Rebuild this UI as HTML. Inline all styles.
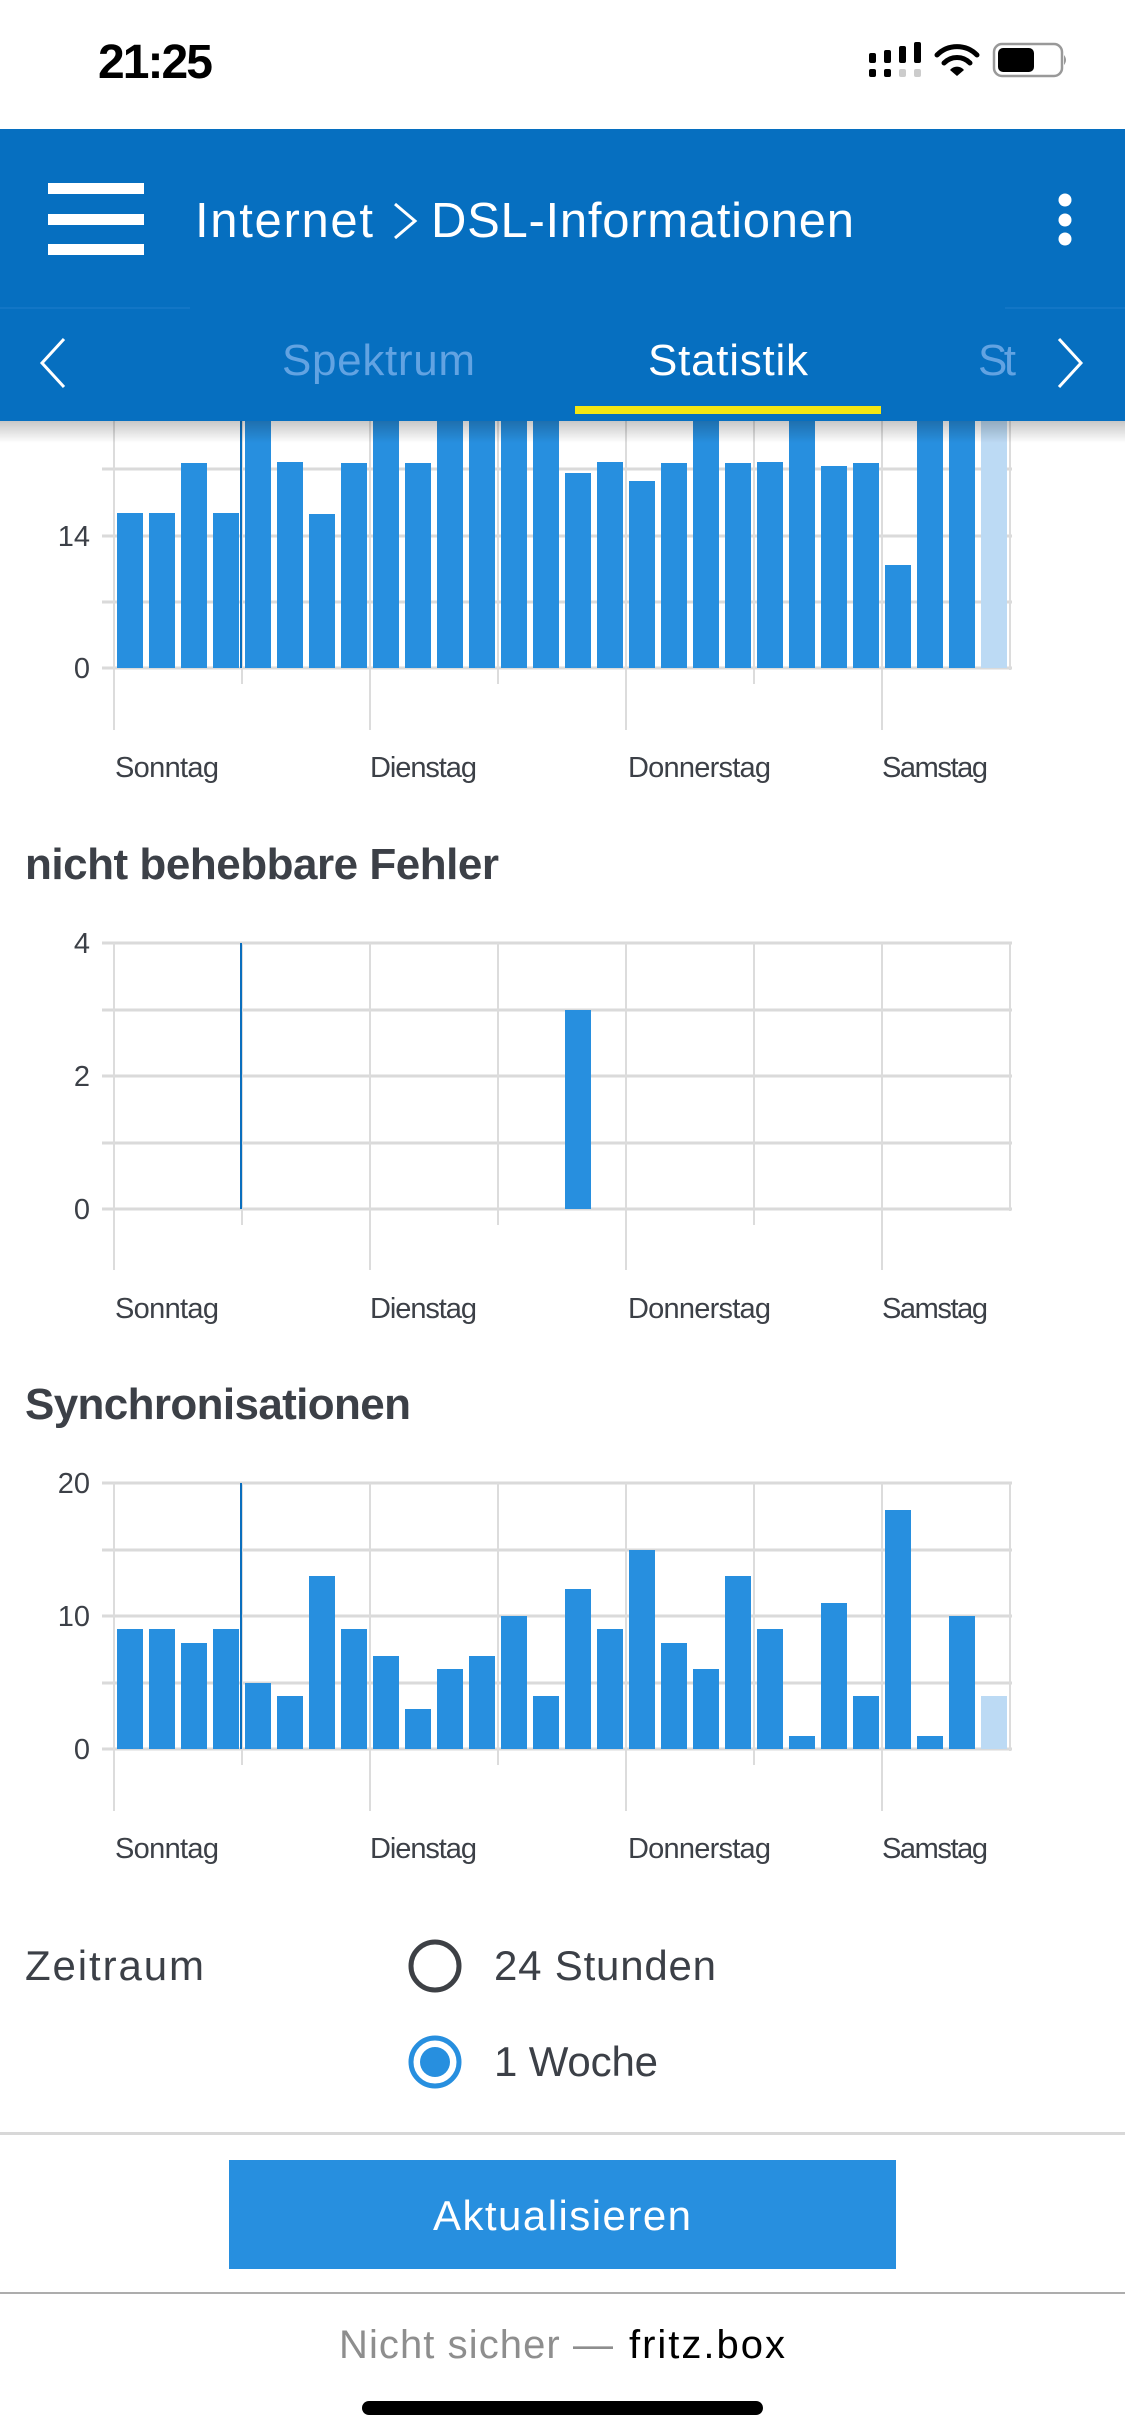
<!DOCTYPE html>
<html><head><meta charset="utf-8"><style>
html,body{margin:0;padding:0;background:#fff;}
svg{display:block;}
text{font-family:"Liberation Sans",sans-serif;}
</style></head><body>
<svg width="1125" height="2436" viewBox="0 0 1125 2436" xmlns="http://www.w3.org/2000/svg">
<defs>
<linearGradient id="sh" x1="0" y1="0" x2="0" y2="1"><stop offset="0" stop-color="#000" stop-opacity="0.22"/><stop offset="1" stop-color="#000" stop-opacity="0"/></linearGradient>
</defs>
<rect width="1125" height="2436" fill="#fff"/>

<!-- Chart 1 -->
<g>
<g stroke="#dadada" stroke-width="3">
<line x1="102" y1="668" x2="1012" y2="668"/><line x1="102" y1="602" x2="1012" y2="602"/><line x1="102" y1="536" x2="1012" y2="536"/><line x1="102" y1="469" x2="1012" y2="469"/>
</g>
<g stroke="#dcdcdc" stroke-width="2">
<line x1="114" y1="421" x2="114" y2="730"/><line x1="370" y1="421" x2="370" y2="730"/><line x1="626" y1="421" x2="626" y2="730"/><line x1="882" y1="421" x2="882" y2="730"/>
<line x1="242" y1="421" x2="242" y2="684"/><line x1="498" y1="421" x2="498" y2="684"/><line x1="754" y1="421" x2="754" y2="684"/><line x1="1010" y1="421" x2="1010" y2="670"/>
</g>
<g fill="#278fdf">
<rect x="117" y="513" width="26" height="155"/><rect x="149" y="513" width="26" height="155"/><rect x="181" y="463" width="26" height="205"/><rect x="213" y="513" width="26" height="155"/>
<rect x="245" y="421" width="26" height="247"/><rect x="277" y="462" width="26" height="206"/><rect x="309" y="514" width="26" height="154"/><rect x="341" y="463" width="26" height="205"/>
<rect x="373" y="421" width="26" height="247"/><rect x="405" y="463" width="26" height="205"/><rect x="437" y="421" width="26" height="247"/><rect x="469" y="421" width="26" height="247"/>
<rect x="501" y="421" width="26" height="247"/><rect x="533" y="421" width="26" height="247"/><rect x="565" y="473" width="26" height="195"/><rect x="597" y="462" width="26" height="206"/>
<rect x="629" y="481" width="26" height="187"/><rect x="661" y="463" width="26" height="205"/><rect x="693" y="421" width="26" height="247"/><rect x="725" y="463" width="26" height="205"/>
<rect x="757" y="462" width="26" height="206"/><rect x="789" y="421" width="26" height="247"/><rect x="821" y="466" width="26" height="202"/><rect x="853" y="463" width="26" height="205"/>
<rect x="885" y="565" width="26" height="103"/><rect x="917" y="421" width="26" height="247"/><rect x="949" y="421" width="26" height="247"/>
</g>
<rect x="981" y="421" width="26" height="247" fill="#bcdaf4"/>
<line x1="241" y1="421" x2="241" y2="668" stroke="#0a6ebd" stroke-width="2"/>
<g font-size="29" fill="#3c4047" text-anchor="end"><text x="90" y="546">14</text><text x="90" y="678">0</text></g>
<g font-size="29" fill="#3c4047"><text x="115" y="777" textLength="104">Sonntag</text><text x="370" y="777" textLength="107">Dienstag</text><text x="628" y="777" textLength="143">Donnerstag</text><text x="882" y="777" textLength="106">Samstag</text></g>
</g>

<!-- Chart 2 -->
<text x="25" y="879" font-size="44" font-weight="bold" fill="#3c4047" textLength="474">nicht behebbare Fehler</text>
<g>
<g stroke="#dadada" stroke-width="3">
<line x1="102" y1="943" x2="1012" y2="943"/><line x1="102" y1="1010" x2="1012" y2="1010"/><line x1="102" y1="1076" x2="1012" y2="1076"/><line x1="102" y1="1143" x2="1012" y2="1143"/><line x1="102" y1="1209" x2="1012" y2="1209"/>
</g>
<g stroke="#dcdcdc" stroke-width="2">
<line x1="114" y1="943" x2="114" y2="1270"/><line x1="370" y1="943" x2="370" y2="1270"/><line x1="626" y1="943" x2="626" y2="1270"/><line x1="882" y1="943" x2="882" y2="1270"/>
<line x1="242" y1="943" x2="242" y2="1225"/><line x1="498" y1="943" x2="498" y2="1225"/><line x1="754" y1="943" x2="754" y2="1225"/><line x1="1010" y1="943" x2="1010" y2="1211"/>
</g>
<rect x="565" y="1010" width="26" height="199" fill="#278fdf"/>
<line x1="241" y1="943" x2="241" y2="1209" stroke="#0a6ebd" stroke-width="2"/>
<g font-size="29" fill="#3c4047" text-anchor="end"><text x="90" y="953">4</text><text x="90" y="1086">2</text><text x="90" y="1219">0</text></g>
<g font-size="29" fill="#3c4047"><text x="115" y="1318" textLength="104">Sonntag</text><text x="370" y="1318" textLength="107">Dienstag</text><text x="628" y="1318" textLength="143">Donnerstag</text><text x="882" y="1318" textLength="106">Samstag</text></g>
</g>

<!-- Chart 3 -->
<text x="25" y="1419" font-size="44" font-weight="bold" fill="#3c4047" textLength="386">Synchronisationen</text>
<g>
<g stroke="#dadada" stroke-width="3">
<line x1="102" y1="1483" x2="1012" y2="1483"/><line x1="102" y1="1550" x2="1012" y2="1550"/><line x1="102" y1="1616" x2="1012" y2="1616"/><line x1="102" y1="1683" x2="1012" y2="1683"/><line x1="102" y1="1749" x2="1012" y2="1749"/>
</g>
<g stroke="#dcdcdc" stroke-width="2">
<line x1="114" y1="1483" x2="114" y2="1811"/><line x1="370" y1="1483" x2="370" y2="1811"/><line x1="626" y1="1483" x2="626" y2="1811"/><line x1="882" y1="1483" x2="882" y2="1811"/>
<line x1="242" y1="1483" x2="242" y2="1765"/><line x1="498" y1="1483" x2="498" y2="1765"/><line x1="754" y1="1483" x2="754" y2="1765"/><line x1="1010" y1="1483" x2="1010" y2="1751"/>
</g>
<g fill="#278fdf">
<rect x="117" y="1629" width="26" height="120"/><rect x="149" y="1629" width="26" height="120"/><rect x="181" y="1643" width="26" height="106"/><rect x="213" y="1629" width="26" height="120"/>
<rect x="245" y="1683" width="26" height="66"/><rect x="277" y="1696" width="26" height="53"/><rect x="309" y="1576" width="26" height="173"/><rect x="341" y="1629" width="26" height="120"/>
<rect x="373" y="1656" width="26" height="93"/><rect x="405" y="1709" width="26" height="40"/><rect x="437" y="1669" width="26" height="80"/><rect x="469" y="1656" width="26" height="93"/>
<rect x="501" y="1616" width="26" height="133"/><rect x="533" y="1696" width="26" height="53"/><rect x="565" y="1589" width="26" height="160"/><rect x="597" y="1629" width="26" height="120"/>
<rect x="629" y="1550" width="26" height="199"/><rect x="661" y="1643" width="26" height="106"/><rect x="693" y="1669" width="26" height="80"/><rect x="725" y="1576" width="26" height="173"/>
<rect x="757" y="1629" width="26" height="120"/><rect x="789" y="1736" width="26" height="13"/><rect x="821" y="1603" width="26" height="146"/><rect x="853" y="1696" width="26" height="53"/>
<rect x="885" y="1510" width="26" height="239"/><rect x="917" y="1736" width="26" height="13"/><rect x="949" y="1616" width="26" height="133"/>
</g>
<rect x="981" y="1696" width="26" height="53" fill="#bcdaf4"/>
<line x1="241" y1="1483" x2="241" y2="1749" stroke="#0a6ebd" stroke-width="2"/>
<g font-size="29" fill="#3c4047" text-anchor="end"><text x="90" y="1493">20</text><text x="90" y="1626">10</text><text x="90" y="1759">0</text></g>
<g font-size="29" fill="#3c4047"><text x="115" y="1858" textLength="104">Sonntag</text><text x="370" y="1858" textLength="107">Dienstag</text><text x="628" y="1858" textLength="143">Donnerstag</text><text x="882" y="1858" textLength="106">Samstag</text></g>
</g>

<!-- Zeitraum -->
<text x="25" y="1980" font-size="42" fill="#3c4047" textLength="179">Zeitraum</text>
<circle cx="435" cy="1966" r="24" fill="none" stroke="#3d4045" stroke-width="5"/>
<text x="494" y="1980" font-size="42" fill="#3c4047" textLength="222">24 Stunden</text>
<circle cx="435" cy="2062" r="24" fill="none" stroke="#278fdf" stroke-width="5"/>
<circle cx="435" cy="2062" r="15" fill="#278fdf"/>
<text x="494" y="2076" font-size="42" fill="#3c4047" textLength="164">1 Woche</text>
<rect x="0" y="2132" width="1125" height="3" fill="#d8d8d8"/>
<rect x="229" y="2160" width="667" height="109" fill="#278fdf"/>
<text x="562" y="2230" font-size="42" fill="#fff" text-anchor="middle" textLength="258">Aktualisieren</text>
<rect x="0" y="2292" width="1125" height="2" fill="#adadad"/>
<text x="339" y="2358" font-size="40" fill="#8e8e8e" textLength="274">Nicht sicher —</text>
<text x="629" y="2358" font-size="40" fill="#000" textLength="156">fritz.box</text>
<rect x="362" y="2401" width="401" height="14" rx="7" fill="#000"/>

<!-- Header -->
<rect x="0" y="421" width="1125" height="22" fill="url(#sh)"/>
<rect x="0" y="129" width="1125" height="292" fill="#066fc0"/>
<line x1="0" y1="308" x2="190" y2="308" stroke="#1e7ccb" stroke-width="1"/>
<line x1="1005" y1="308" x2="1125" y2="308" stroke="#1e7ccb" stroke-width="1"/>
<g fill="#fff"><rect x="48" y="183" width="96" height="11"/><rect x="48" y="214" width="96" height="11"/><rect x="48" y="244" width="96" height="11"/>
<circle cx="1065" cy="200" r="6.5"/><circle cx="1065" cy="220" r="6.5"/><circle cx="1065" cy="239" r="6.5"/></g>
<text x="195" y="237" font-size="49" fill="#fff" textLength="178">Internet</text>
<polyline points="395,204 415,221 395,238" fill="none" stroke="#fff" stroke-width="3"/>
<text x="431" y="237" font-size="49" fill="#fff" textLength="423">DSL-Informationen</text>
<polyline points="64,339 42,363 64,387" fill="none" stroke="#fff" stroke-width="3"/>
<polyline points="1059,339 1081,363 1059,387" fill="none" stroke="#fff" stroke-width="3"/>
<text x="282" y="375" font-size="44" fill="#62a3e2" textLength="193">Spektrum</text>
<text x="648" y="375" font-size="44" fill="#fff" textLength="160">Statistik</text>
<text x="978" y="375" font-size="44" fill="#62a3e2" textLength="38">St</text>
<rect x="575" y="406" width="306" height="8" fill="#f3e613"/>

<!-- Status bar -->
<text x="98" y="78" font-size="48" font-weight="bold" fill="#000" textLength="115">21:25</text>
<g fill="#000">
<rect x="869" y="53" width="7" height="10" rx="2"/><rect x="884" y="50" width="7" height="13" rx="2"/><rect x="899" y="46" width="7" height="17" rx="2"/><rect x="914" y="42" width="7" height="21" rx="2"/>
<rect x="869" y="69" width="7" height="8" rx="2"/><rect x="884" y="69" width="7" height="8" rx="2"/>
</g>
<g fill="#ccc"><rect x="899" y="69" width="7" height="8" rx="2"/><rect x="914" y="69" width="7" height="8" rx="2"/></g>
<g fill="none" stroke="#000" stroke-width="5" stroke-linecap="round">
<path d="M937,55 A28,28 0 0 1 977,55"/><path d="M944,63 A18,18 0 0 1 970,63"/>
</g>
<path d="M950,70 L957,76 L964,70 A9,9 0 0 0 950,70 Z" fill="#000"/>
<rect x="994" y="44" width="68" height="32" rx="8" fill="none" stroke="#999" stroke-width="2.5"/>
<rect x="998" y="48" width="36" height="24" rx="5" fill="#000"/>
<path d="M1064,55 Q1068,60 1064,65 Z" fill="#999"/>
</svg>
</body></html>
